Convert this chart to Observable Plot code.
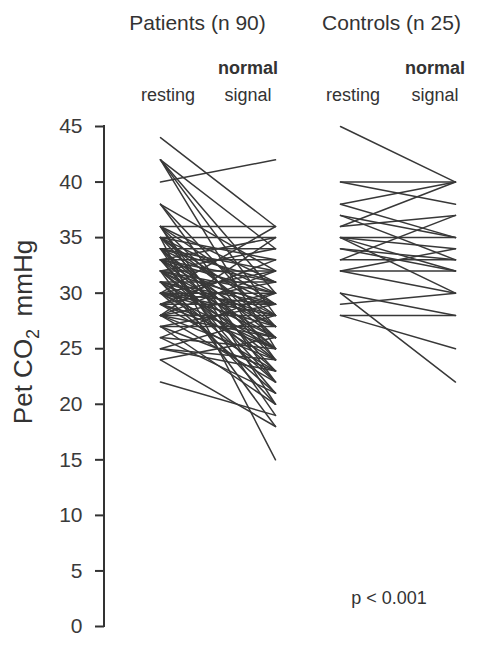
<!DOCTYPE html>
<html><head><meta charset="utf-8">
<script src="https://cdn.jsdelivr.net/npm/d3@7"></script>
<script src="https://cdn.jsdelivr.net/npm/@observablehq/plot@0.6"></script>
<style>body{margin:0;background:#fff;} #chart{width:491px;height:649px;}</style>
</head><body><div id="chart"></div>
<script>
const groups = ["Patients (n 90)", "Controls (n 25)"];
const conditions = ["resting", "normal signal"];
const yTicks = [0, 5, 10, 15, 20, 25, 30, 35, 40, 45];
const pValue = "p < 0.001";

const patientsResting = [44,42,42,42,42,40,38,38,38,36,36,36,36,36,36,35,35,35,35,35,35,35,34,34,34,34,34,34,34,34,33,33,33,33,33,33,33,33,33,32,32,32,32,32,32,32,32,32,31,31,31,31,31,31,31,30,30,30,30,30,30,30,30,30,29,29,29,29,29,29,28,28,28,28,28,28,28,27,27,27,27,26,26,26,25,25,25,24,24,22];
const patientsSignal  = [36,30,28,25,34,42,32,27,24,36,29,26,22,31,20,35,30,15,27,33,24,28,34,29,26,31,23,19,32,25,33,30,27,22,28,25,31,21,35,32,29,26,24,30,18,27,23,34,31,28,25,29,22,26,20,30,27,24,32,28,25,21,36,29,29,26,23,31,25,33,28,24,30,26,22,32,35,27,23,29,20,25,30,21,28,24,23,18,26,19];
const controlsResting = [45,40,40,38,38,37,37,36,36,35,35,35,35,34,34,33,33,32,32,32,30,30,29,28,28];
const controlsSignal  = [40,40,38,40,35,35,33,40,37,35,34,30,32,33,32,33,37,32,34,30,22,28,30,28,25];

const groupStep = 180 / 115; // spacing between groups relative to the within-group spacing
const rows = [];
function addGroup(gi, rest, sig) {
  rest.forEach((r, i) => {
    rows.push({id: gi + "-" + i, group: groups[gi], cond: conditions[0], x: gi * groupStep, y: r});
    rows.push({id: gi + "-" + i, group: groups[gi], cond: conditions[1], x: gi * groupStep + 1, y: sig[i]});
  });
}
addGroup(0, patientsResting, patientsSignal);
addGroup(1, controlsResting, controlsSignal);

const font = "'Liberation Sans', Arial, Helvetica, sans-serif";
const plot = Plot.plot({
  width: 491, height: 649,
  marginLeft: 104, marginTop: 126, marginBottom: 23, marginRight: 20,
  x: {domain: [0, groupStep + 1], range: [160, 455], axis: null},
  y: {domain: [0, 45], axis: null},
  style: {fontFamily: font, background: "#fff"},
  marks: [
    Plot.axisY({ticks: yTicks, tickSize: 9, tickPadding: 13, label: null, stroke: "#333", strokeWidth: 2, fill: "#3a3a3a", fontSize: 21}),
    Plot.line(rows, {x: "x", y: "y", z: "id", stroke: "#383838", strokeWidth: 1.5})
  ]
});
document.getElementById("chart").appendChild(plot);

const sx = plot.scale("x"), sy = plot.scale("y");
const svg = d3.select(plot);
// axis line
svg.append("line").attr("x1", 104).attr("x2", 104)
  .attr("y1", sy.apply(45) - 1).attr("y2", sy.apply(0) + 1)
  .attr("stroke", "#333").attr("stroke-width", 2);

const g = svg.append("g").attr("font-family", font).attr("fill", "#333");
// group headers
groups.forEach((name, gi) => {
  const cx = sx.apply(gi * groupStep + 0.5);
  g.append("text").attr("x", cx - 20 + gi * 14).attr("y", 30).attr("text-anchor", "middle")
    .attr("font-size", 21).text(name);
  g.append("text").attr("x", sx.apply(gi * groupStep) + 8 + gi * 5).attr("y", 101).attr("text-anchor", "middle")
    .attr("font-size", 18).text(conditions[0]);
  const [w1, w2] = conditions[1].split(" ");
  const sxp = sx.apply(gi * groupStep + 1) - 27 + gi * 7;
  g.append("text").attr("x", sxp).attr("y", 74).attr("text-anchor", "middle")
    .attr("font-size", 18).attr("font-weight", "bold").text(w1);
  g.append("text").attr("x", sxp).attr("y", 101).attr("text-anchor", "middle")
    .attr("font-size", 18).text(w2);
});
// y label with subscript
const yl = g.append("text").attr("transform", "translate(32,332) rotate(-90)")
  .attr("text-anchor", "middle").attr("font-size", 26);
yl.append("tspan").text("Pet CO");
yl.append("tspan").attr("font-size", 18).attr("dy", 7).text("2");
yl.append("tspan").attr("dy", -7).text("\u2009 mmHg");
// p value
g.append("text").attr("x", 389).attr("y", 604).attr("text-anchor", "middle")
  .attr("font-size", 18).text(pValue);
</script>
</body></html>
